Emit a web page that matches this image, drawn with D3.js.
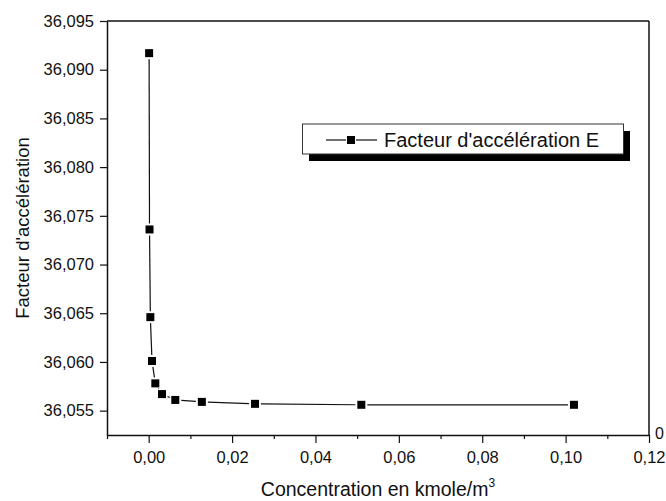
<!DOCTYPE html>
<html><head><meta charset="utf-8">
<script src="https://cdn.jsdelivr.net/npm/d3@7"></script>
<style>body{margin:0;background:#fff}svg{display:block}</style>
</head><body>
<svg id="c" width="666" height="501"></svg>
<script>
const concentration = [0.0000996, 0.000199, 0.000398, 0.000797, 0.00159, 0.00319, 0.00638, 0.01275, 0.0255, 0.051, 0.102];
const facteurE = [36.0917, 36.0736, 36.0646, 36.0601, 36.0578, 36.0567, 36.0561, 36.0559, 36.0557, 36.0556, 36.0556];
const xTicks = [0, 0.02, 0.04, 0.06, 0.08, 0.10, 0.12];
const xMinorTicks = [-0.01, 0.01, 0.03, 0.05, 0.07, 0.09, 0.11];
const yTicks = [36.055, 36.060, 36.065, 36.070, 36.075, 36.080, 36.085, 36.090, 36.095];
const seriesName = "Facteur d'accélération E";
const xTitle = "Concentration en kmole/m";
const yTitle = "Facteur d'accélération";

const svg = d3.select("#c");
const FONT = "'Liberation Sans', Arial, sans-serif";
const L = 107, R = 649, T = 21, B = 435;
const x = d3.scaleLinear([-0.01, 0.12], [L, R]);
const y = d3.scaleLinear([36.0525, 36.095], [B, T]);
const comma = f => v => d3.format(f)(v).replace(".", ",");

// frame top/right
svg.append("line").attr("x1", L).attr("x2", R).attr("y1", T).attr("y2", T).attr("stroke", "#111").attr("stroke-width", 1.5);
svg.append("line").attr("x1", R).attr("x2", R).attr("y1", T).attr("y2", B).attr("stroke", "#111").attr("stroke-width", 1.5);

// y axis
svg.append("g").attr("transform", `translate(${L},0)`)
  .call(d3.axisLeft(y).tickValues(yTicks).tickFormat(comma(".3f")).tickSize(7).tickSizeOuter(0).tickPadding(6));
// x axis major
svg.append("g").attr("transform", `translate(0,${B})`)
  .call(d3.axisBottom(x).tickValues(xTicks).tickFormat(comma(".2f")).tickSize(8).tickSizeOuter(0).tickPadding(8));
// x minor
svg.append("g").attr("transform", `translate(0,${B})`)
  .call(d3.axisBottom(x).tickValues(xMinorTicks).tickFormat("").tickSize(4).tickSizeOuter(0))
  .select(".domain").remove();

svg.selectAll(".domain").attr("stroke", "#111").attr("stroke-width", 1.5);
svg.selectAll(".tick line").attr("stroke", "#111").attr("stroke-width", 1.2);
svg.selectAll(".tick text").attr("font-family", FONT).attr("font-size", 16.5).attr("fill", "#111");

// right axis stray label
svg.append("text").attr("x", R + 6).attr("y", B + 4).attr("font-family", FONT).attr("font-size", 16).attr("fill", "#111").text("0");

// series: segments with small gaps around markers
const pts = concentration.map((c, i) => [x(c), y(facteurE[i])]);
const gap = 6;
for (let i = 0; i < pts.length - 1; i++) {
  const [x1, y1] = pts[i], [x2, y2] = pts[i + 1];
  const dx = x2 - x1, dy = y2 - y1, len = Math.hypot(dx, dy);
  if (len <= 2 * gap) continue;
  const ux = dx / len, uy = dy / len;
  svg.append("line").attr("x1", x1 + ux * gap).attr("y1", y1 + uy * gap)
    .attr("x2", x2 - ux * gap).attr("y2", y2 - uy * gap)
    .attr("stroke", "#111").attr("stroke-width", 1.2);
}
svg.selectAll("rect.m").data(pts).join("rect").attr("class", "m")
  .attr("x", d => d[0] - 4).attr("y", d => d[1] - 4).attr("width", 8).attr("height", 8).attr("fill", "#000");

// legend
const lg = svg.append("g");
lg.append("rect").attr("x", 309).attr("y", 131).attr("width", 321).attr("height", 30).attr("fill", "#000");
lg.append("rect").attr("x", 302.5).attr("y", 124).attr("width", 321).attr("height", 30).attr("fill", "#fff").attr("stroke", "#333").attr("stroke-width", 1);
lg.append("line").attr("x1", 326).attr("x2", 346).attr("y1", 140).attr("y2", 140).attr("stroke", "#111").attr("stroke-width", 1.2);
lg.append("line").attr("x1", 356).attr("x2", 377).attr("y1", 140).attr("y2", 140).attr("stroke", "#111").attr("stroke-width", 1.2);
lg.append("rect").attr("x", 347).attr("y", 136).attr("width", 8).attr("height", 8).attr("fill", "#000");
lg.append("text").attr("x", 384).attr("y", 146.5).attr("font-family", FONT).attr("font-size", 20).attr("fill", "#111").text(seriesName);

// titles
const xt = svg.append("text").attr("x", (L + R) / 2).attr("y", 496).attr("text-anchor", "middle")
  .attr("font-family", FONT).attr("font-size", 19.5).attr("fill", "#111");
xt.append("tspan").text(xTitle);
xt.append("tspan").attr("font-size", 12).attr("dy", -9).text("3");
svg.append("text").attr("transform", `translate(29,${(T + B) / 2}) rotate(-90)`).attr("text-anchor", "middle")
  .attr("font-family", FONT).attr("font-size", 18.5).attr("fill", "#111").text(yTitle);
</script>
</body></html>
